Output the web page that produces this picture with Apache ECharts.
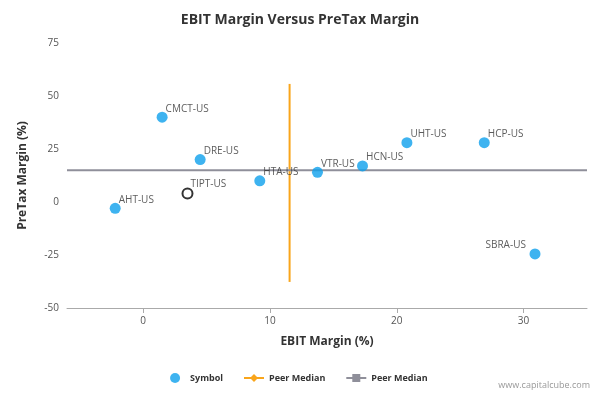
<!DOCTYPE html>
<html><head><meta charset="utf-8">
<script src="https://cdn.jsdelivr.net/npm/echarts@6/dist/echarts.min.js"></script>
<style>body{margin:0}#c{width:600px;height:400px}</style></head>
<body><div id="c"></div>
<script>
const names=['CMCT-US','DRE-US','HTA-US','VTR-US','HCN-US','UHT-US','HCP-US','SBRA-US','AHT-US'];
const ebit=[1.5,4.5,9.2,13.75,17.3,20.8,26.9,30.9,-2.2];
const pretax=[40,20,10,14,17,28,28,-24.5,-3];
const subject={name:'TIPT-US',x:3.5,y:4};
const peerX=11.55, peerY=15;
const vLine=[[peerX,55.7],[peerX,-37.7]];
const hLine=[[-6,peerY],[35,peerY]];
const xTicks=[0,10,20,30];
const font='"Open Sans", "DejaVu Sans", sans-serif';
const chart=echarts.init(document.getElementById('c'));
const lbl={show:true,formatter:p=>p.name,position:[9,-8],fontSize:10,color:'#333',fontFamily:font};
chart.setOption({
  title:{text:'EBIT Margin Versus PreTax Margin',left:'center',top:8,textStyle:{fontSize:14,fontWeight:'bold',color:'#333',fontFamily:font}},
  grid:{left:67,right:13,top:43,bottom:92},
  xAxis:{type:'value',min:-6,max:35,name:'EBIT Margin (%)',nameLocation:'middle',nameGap:28,
    nameTextStyle:{fontWeight:'bold',fontSize:12,color:'#333',fontFamily:font},
    axisLine:{show:true,onZero:false,lineStyle:{color:'#aaa'}},
    axisTick:{show:true,customValues:xTicks,lineStyle:{color:'#aaa'}},
    axisLabel:{customValues:xTicks,color:'#555',fontSize:10,fontFamily:font},splitLine:{show:false}},
  yAxis:{type:'value',min:-50,max:75,interval:25,name:'PreTax Margin (%)',nameLocation:'middle',nameGap:38,
    nameTextStyle:{fontWeight:'bold',fontSize:12,color:'#333',fontFamily:font},
    axisLine:{show:false},axisTick:{show:false},
    axisLabel:{color:'#555',fontSize:10,fontFamily:font},splitLine:{show:false}},
  legend:{bottom:12,left:'center',itemGap:20,itemWidth:20,itemHeight:10,textStyle:{fontSize:9,fontWeight:'bold',color:'#333',fontFamily:font},
    data:[{name:'Symbol',icon:'circle'},{name:'Peer Median'},{name:'Peer Median '}]},
  graphic:[{type:'text',right:10,bottom:10,style:{text:'www.capitalcube.com',fontSize:9,fill:'#999',fontFamily:font}}],
  series:[
    {name:'Symbol',type:'scatter',symbolSize:11,itemStyle:{color:'#0ea0ec'},
      data:names.map((n,i)=>({name:n,value:[ebit[i],pretax[i]],label:n==='SBRA-US'?{position:[-44,-8]}:undefined})),
      label:lbl,z:3},
    {name:'Subject',type:'scatter',symbolSize:10,itemStyle:{color:'#fff',borderColor:'#000',borderWidth:2},
      data:[{name:subject.name,value:[subject.x,subject.y]}],
      label:lbl,z:4},
    {name:'Peer Median',type:'line',data:vLine,symbol:'diamond',showSymbol:false,lineStyle:{color:'#f9a51b',width:2},itemStyle:{color:'#f9a51b'}},
    {name:'Peer Median ',type:'line',data:hLine,symbol:'rect',showSymbol:false,lineStyle:{color:'#8f8f9a',width:2},itemStyle:{color:'#8f8f9a'}}
  ]
});
</script></body></html>
